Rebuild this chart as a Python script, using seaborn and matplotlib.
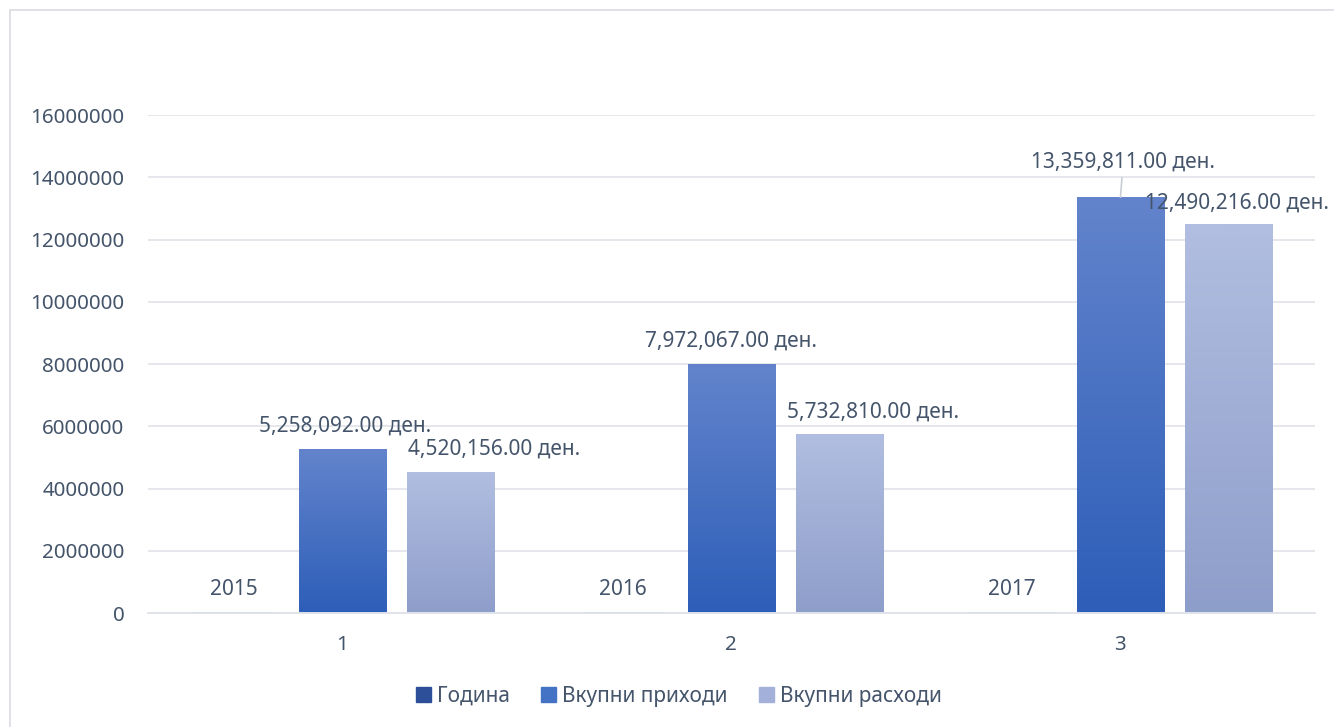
import numpy as np
import pandas as pd
import matplotlib as mpl
import matplotlib.pyplot as plt
import matplotlib.patches as mpatches
from matplotlib.colors import LinearSegmentedColormap
import seaborn as sns

# data
categories = ['1', '2', '3']
series_names = ['Година', 'Вкупни приходи', 'Вкупни расходи']
years = [2015, 2016, 2017]
income = [5258092.00, 7972067.00, 13359811.00]
expenses = [4520156.00, 5732810.00, 12490216.00]
y_ticks = [0, 2000000, 4000000, 6000000, 8000000, 10000000, 12000000, 14000000, 16000000]

text_color = '#44546A'
grid_color = '#E0E3E9'
# (top, bottom) gradient colours per series
grad_colors = [('#3C5FA9', '#22448C'), ('#6384CC', '#2D5EB8'), ('#B1BEE1', '#8E9ECA')]
legend_colors = ['#2D4F9A', '#4472C4', '#A3B1DA']

sns.set_theme(style='white')
plt.rcParams['font.family'] = ['Noto Sans', 'DejaVu Sans']
plt.rcParams['text.color'] = text_color
plt.rcParams['xtick.color'] = text_color
plt.rcParams['ytick.color'] = text_color

df = pd.DataFrame({
    'cat': categories * 3,
    'series': np.repeat(series_names, len(categories)),
    'value': years + income + expenses,
})

fig = plt.figure(figsize=(13.34, 7.27), dpi=100)
ax = fig.add_axes([0.1109, 0.1568, 0.8748, 0.685])

sns.barplot(data=df, x='cat', y='value', hue='series', hue_order=series_names,
            order=categories, width=0.835, gap=0.19, legend=False,
            palette=legend_colors, ax=ax, zorder=2, linewidth=0)

# vertical gradient per bar, like the original office chart
for cont, (top, bottom) in zip(ax.containers, grad_colors):
    cmap = LinearSegmentedColormap.from_list('g', [bottom, top])
    for bar in cont:
        x0, w, h = bar.get_x(), bar.get_width(), bar.get_height()
        bar.set_facecolor('none')
        ax.imshow(np.linspace(0, 1, 256).reshape(-1, 1), cmap=cmap, origin='lower',
                  extent=[x0, x0 + w, 0, h], aspect='auto', zorder=2)

ax.set_xlim(-0.5, 2.5)
ax.set_ylim(0, 16000000)
ax.set_yticks(y_ticks)
ax.set_yticklabels([str(v) for v in y_ticks], fontsize=14.8)
ax.tick_params(axis='y', length=0, pad=17)
ax.tick_params(axis='x', length=0, pad=16, labelsize=14.8)
ax.set_xlabel('')
ax.set_ylabel('')
ax.yaxis.grid(True, color=grid_color, linewidth=1.2, zorder=0)
ax.set_axisbelow(True)
for side in ['top', 'right', 'left']:
    ax.spines[side].set_visible(False)
ax.spines['bottom'].set_color(grid_color)
ax.spines['bottom'].set_linewidth(1.4)

# data labels
label_sets = [
    [str(v) for v in years],
    [f'{v:,.2f} ден.' for v in income],
    [f'{v:,.2f} ден.' for v in expenses],
]
offsets = [
    [(0, 17), (0, 17), (0, 17)],
    [(2, 17), (0, 17), (2, 25)],
    [(31, 16.5), (24, 16.5), (6, 15)],
]
for cont, labels, offs in zip(ax.containers, label_sets, offsets):
    for bar, lab, (dx, dy) in zip(cont, labels, offs):
        cx = bar.get_x() + bar.get_width() / 2
        arrow = None
        if dy > 20:
            arrow = dict(arrowstyle='-', color='#C9CED6', lw=1.2, shrinkA=1, shrinkB=0)
        ax.annotate(lab, xy=(cx, bar.get_height()), xytext=(dx, dy),
                    textcoords='offset points', ha='center', va='center',
                    fontsize=15, color=text_color, arrowprops=arrow, zorder=4)

handles = [mpatches.Patch(color=c, label=n) for c, n in zip(legend_colors, series_names)]
fig.legend(handles=handles, loc='center', bbox_to_anchor=(0.509, 0.042), ncol=3,
           frameon=False, fontsize=15, handlelength=0.7, handleheight=0.7,
           handletextpad=0.3, columnspacing=1.5, labelcolor=text_color)

# chart outer border
fig.patches.append(mpatches.Rectangle((10 / 1334, -0.1), 1.2, 1 - 10 / 727 + 0.1,
                                      transform=fig.transFigure, fill=False,
                                      edgecolor='#D9DCE3', linewidth=1.2))

fig.savefig('out.png', dpi=100)
